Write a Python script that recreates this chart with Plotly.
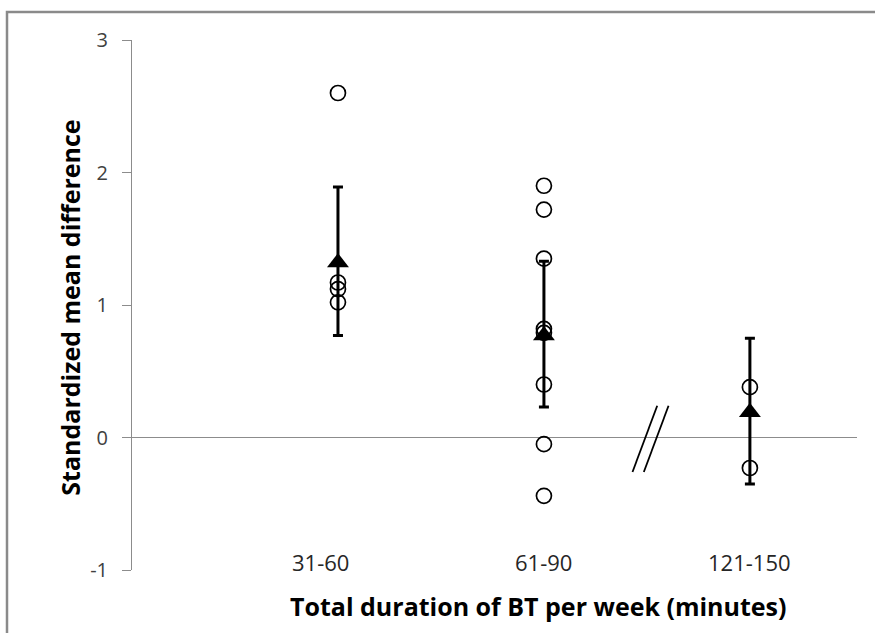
import plotly.graph_objects as go

categories = ["31-60", "61-90", "121-150"]
cat_pos = [1, 2, 3]

# individual study effect sizes (open circles)
study_31_60 = [2.60, 1.17, 1.12, 1.02]
study_61_90 = [1.90, 1.72, 1.35, 0.82, 0.79, 0.40, -0.05, -0.44]
study_121_150 = [0.38, -0.23]

# pooled means with confidence limits (filled triangles)
pooled_mean = [1.32, 0.77, 0.19]
ci_low = [0.77, 0.23, -0.35]
ci_high = [1.89, 1.33, 0.75]

y_ticks = [-1, 0, 1, 2, 3]
y_tick_text = ["-1", "0", "1", "2", "3"]

fig = go.Figure()

studies = [study_31_60, study_61_90, study_121_150]
xs, ys = [], []
for p, vals in zip(cat_pos, studies):
    xs += [p] * len(vals)
    ys += vals

fig.add_trace(go.Scatter(
    x=xs, y=ys, mode="markers",
    marker=dict(symbol="circle-open", size=15, color="black", line=dict(width=1.7)),
    showlegend=False, hoverinfo="y"))

fig.add_trace(go.Scatter(
    x=cat_pos, y=pooled_mean, mode="markers",
    marker=dict(symbol="triangle-up", size=19, color="black"),
    error_y=dict(type="data", symmetric=False,
                 array=[h - m for h, m in zip(ci_high, pooled_mean)],
                 arrayminus=[m - l for m, l in zip(pooled_mean, ci_low)],
                 color="black", thickness=3, width=5),
    showlegend=False, hoverinfo="y"))

# category labels placed inside plot area (text boxes above the axis bottom)
label_shift = [-17, 0, 0]
for p, c, s in zip(cat_pos, categories, label_shift):
    fig.add_annotation(x=p, y=-0.94, xref="x", yref="y", text=c, showarrow=False,
                       xshift=s, font=dict(family="Open Sans", size=22, color="#262626"))

# axis break mark "//"
for dx in [0.0, 0.055]:
    fig.add_shape(type="line", xref="x", yref="y",
                  x0=2.43 + dx, y0=-0.26, x1=2.55 + dx, y1=0.24,
                  line=dict(color="black", width=1.8))

# outer border
fig.add_shape(type="rect", xref="paper", yref="paper",
              x0=(7 - 132) / 725, x1=1.2, y0=1 + (40 - 12) / 530, y1=-0.3,
              line=dict(color="#8a8a8a", width=2.5), layer="below")

# axis titles
fig.add_annotation(x=(538 - 132) / 725, y=-(606 - 570) / 530, xref="paper", yref="paper",
                   text="<b>Total duration of BT per week (minutes)</b>", showarrow=False,
                   yanchor="middle", xanchor="center",
                   font=dict(family="Open Sans", size=25, color="black"))
fig.add_annotation(x=(70 - 132) / 725, y=0.495, xref="paper", yref="paper",
                   text="<b>Standardized mean difference</b>", showarrow=False, textangle=-90,
                   yanchor="middle", xanchor="center",
                   font=dict(family="Open Sans", size=25, color="black"))

fig.update_layout(
    width=875, height=633,
    margin=dict(l=132, r=18, t=40, b=63),
    paper_bgcolor="white", plot_bgcolor="white",
    font=dict(family="Open Sans"),
    xaxis=dict(range=[0, 3.52], visible=False),
    yaxis=dict(range=[-1, 3], tickvals=y_ticks, ticktext=y_tick_text, ticks="outside", ticklen=9,
               tickcolor="#8c8c8c", showline=True, linecolor="#8c8c8c", linewidth=1,
               showgrid=False, zeroline=True, zerolinecolor="#8c8c8c", zerolinewidth=1,
               ticklabelstandoff=10,
               tickfont=dict(family="Open Sans", size=20, color="#404040")),
)

fig.write_html("out.html")
